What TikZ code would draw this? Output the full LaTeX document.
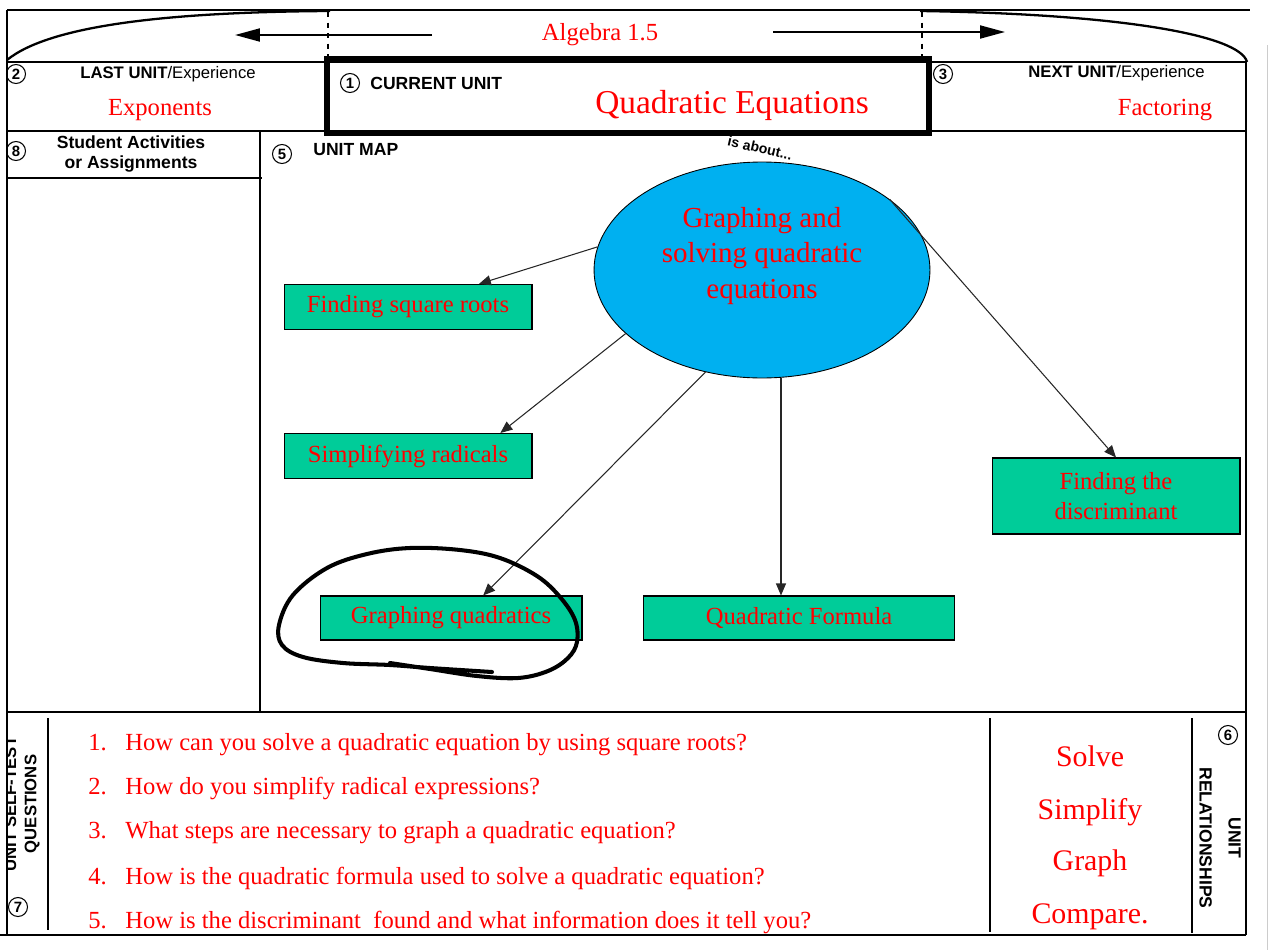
\documentclass[tikz,border=0pt]{standalone}
\usepackage{fontspec}
\setmainfont{Liberation Serif}
\setsansfont{Liberation Sans}
\usepackage{tikz}
\usetikzlibrary{positioning, shapes.geometric, arrows.meta}

\definecolor{mapgreen}{HTML}{00CC99}
\definecolor{mapblue}{HTML}{00B0F0}

\begin{document}
\begin{tikzpicture}[x=0.02cm, y=-0.02cm]
    % Define styles
    \tikzset{
        frame/.style={line width=0.9pt},
        heavy/.style={line width=1.6pt},
        num/.style={circle, draw, line width=0.6pt, inner sep=0pt, minimum size=0.38cm, font=\sffamily\bfseries\fontsize{8.5}{8.5}\selectfont},
        lbl/.style={inner sep=0pt, font=\sffamily\bfseries\fontsize{10}{11.5}\selectfont},
        redtxt/.style={inner sep=0pt, text=red, font=\fontsize{14}{17}\selectfont},
        topic/.style={rectangle, draw, line width=0.6pt, fill=mapgreen, text=red, font=\fontsize{14}{17.5}\selectfont, align=center, inner sep=0pt},
        arrow/.style={-{Triangle[length=0.24cm, width=0.2cm]}, line width=0.6pt, draw=black!85},
        bigarrow/.style={-{Triangle[length=0.5cm, width=0.26cm]}, line width=1.1pt}
    }
    \useasboundingbox (0,0) rectangle (1270,950);

    % Frame and dividing lines
    \draw[frame] (7,10) -- (1250,10);
    \draw[frame] (7,10) -- (7,935);
    \draw[frame] (1246,62) -- (1246,935);
    \draw[frame] (7,62) -- (1246,62);
    \draw[frame] (7,131) -- (1246,131);
    \draw[frame] (260,131) -- (260,712);
    \draw[frame] (7,178) -- (262,178);
    \draw[heavy] (7,712) -- (1246,712);
    \draw[frame] (48,718) -- (48,930);
    \draw[heavy] (990,718) -- (990,932);
    \draw[frame] (1192,718) -- (1192,933);
    \draw[heavy] (0,935) -- (1246,935);
    \draw[gray!40] (1267,45) -- (1267,950);

    % Top arc and dashed marks
    \draw[line width=1.3pt] (7,60) .. controls (50,25) and (170,12) .. (330,11);
    \draw[line width=1.3pt] (920,11) .. controls (1120,14) and (1240,35) .. (1247,62);
    \draw[dash pattern=on 3pt off 3pt, line width=0.6pt] (328,12) -- (328,60);
    \draw[dash pattern=on 3pt off 3pt, line width=0.6pt] (922,12) -- (922,60);

    % Course title and direction arrows
    \node (course) [redtxt] at (600,35) {Algebra 1.5};
    \coordinate (backtail) at (432,35);
    \coordinate (backtip) at (235,35);
    \coordinate (fwdtail) at (773,32);
    \coordinate (fwdtip) at (1005,32);
    \draw[bigarrow] (backtail) -- (backtip);
    \draw[bigarrow] (fwdtail) -- (fwdtip);

    % Last, current and next unit
    \node (n2) [num] at (16,74) {2};
    \node (last) [lbl, anchor=west, font=\sffamily\fontsize{9.5}{10}\selectfont] at (80,74) {{\bfseries LAST UNIT}/Experience};
    \node (lastunit) [redtxt] at (160,110) {Exponents};
    \node (n1) [num] at (350,83) {1};
    \node (curlbl) [lbl, anchor=west] at (370,83) {CURRENT UNIT};
    \node (curunit) [redtxt, font=\fontsize{19}{22}\selectfont] at (732,105) {Quadratic Equations};
    \node (n3) [num] at (943,74) {3};
    \node (next) [lbl, anchor=west, font=\sffamily\fontsize{9.5}{10}\selectfont] at (1028,73) {{\bfseries NEXT UNIT}/Experience};
    \node (nextunit) [redtxt] at (1165,110) {Factoring};

    % Left column and map heading
    \node (n8) [num] at (16,151) {8};
    \node (acts) [lbl, align=center] at (131,154) {Student Activities\\or Assignments};
    \node (n5) [num] at (282,154) {5};
    \node (maplbl) [lbl, anchor=west] at (313,150) {UNIT MAP};
    \node (about) [inner sep=0pt, font=\sffamily\bfseries\fontsize{8}{9}\selectfont, rotate=-13] at (760,148) {is about...};
    \draw[line width=3.5pt] (327,59) rectangle (929,133);

    % Unit map
    \node (ell) [ellipse, draw, line width=0.5pt, fill=mapblue, minimum width=6.72cm, minimum height=4.32cm, inner sep=0pt] at (762,270) {};
    \node (elltxt) [redtxt, font=\fontsize{16.5}{20}\selectfont, align=center] at (762,256) {Graphing and\\solving quadratic\\equations};
    \node (sq) [topic, minimum width=4.96cm, minimum height=0.9cm] at (408,307) {Finding square roots};
    \node (sr) [topic, minimum width=4.96cm, minimum height=0.9cm] at (408,456) {Simplifying radicals};
    \node (gq) [topic, minimum width=5.24cm, minimum height=0.88cm] at (451,618) {Graphing quadratics};
    \node (qf) [topic, minimum width=6.22cm, minimum height=0.88cm] at (799,618) {Quadratic Formula};
    \node (disc) [topic, minimum width=4.96cm, minimum height=1.52cm] at (1116,496) {Finding the\\discriminant};

    \draw[arrow] (ell.172) -- (sq.18);
    \draw[arrow] (ell.205) -- (sr.14);
    \draw[arrow] (ell.241) -- (gq.35);
    \draw[arrow] (ell.280) -- (ell.280 |- qf.north);
    \draw[arrow] (ell.29) -- (disc.north);

    % Hand-drawn loop
    \draw[line width=2.3pt, line cap=round, line join=round] plot[smooth, tension=0.6] coordinates {(492,672) (430,668) (390,665) (343,663) (303,657) (282,645) (279,625) (293,595) (327,568) (367,554) (410,548) (460,550) (500,558) (537,576) (560,597) (575,620) (577,642) (568,658) (548,671) (518,678) (477,676) (430,669) (390,663)};

    % Self-test questions
    \begin{scope}
        \clip (8,714) rectangle (47,934);
        \node (selftest) [lbl, font=\sffamily\bfseries\fontsize{9.5}{11.5}\selectfont, rotate=90, align=center] at (22,804) {UNIT SELF-TEST\\QUESTIONS};
    \end{scope}
    \node (n7) [num] at (18,907) {7};
    \node (q1n) [redtxt, anchor=base west] at (88,750) {1.};
    \node (q1) [redtxt, anchor=base west] at (125,750) {How can you solve a quadratic equation by using square roots?};
    \node (q2n) [redtxt, anchor=base west] at (88,794) {2.};
    \node (q2) [redtxt, anchor=base west] at (125,794) {How do you simplify radical expressions?};
    \node (q3n) [redtxt, anchor=base west] at (88,838) {3.};
    \node (q3) [redtxt, anchor=base west] at (125,838) {What steps are necessary to graph a quadratic equation?};
    \node (q4n) [redtxt, anchor=base west] at (88,884) {4.};
    \node (q4) [redtxt, anchor=base west] at (125,884) {How is the quadratic formula used to solve a quadratic equation?};
    \node (q5n) [redtxt, anchor=base west] at (88,928) {5.};
    \node (q5) [redtxt, anchor=base west] at (125,928) {How is the discriminant\ \ found and what information does it tell you?};

    % Unit relationships
    \node (rel1) [redtxt, anchor=base, font=\fontsize{17}{20}\selectfont] at (1090,766) {Solve};
    \node (rel2) [redtxt, anchor=base, font=\fontsize{17}{20}\selectfont] at (1090,819) {Simplify};
    \node (rel3) [redtxt, anchor=base, font=\fontsize{17}{20}\selectfont] at (1090,870) {Graph};
    \node (rel4) [redtxt, anchor=base, font=\fontsize{17}{20}\selectfont] at (1090,923) {Compare.};
    \node (n6) [num] at (1228,735) {6};
    \node (rel) [lbl, rotate=-90, align=center] at (1220,838) {UNIT\\[5pt]RELATIONSHIPS};

\end{tikzpicture}
\end{document}
